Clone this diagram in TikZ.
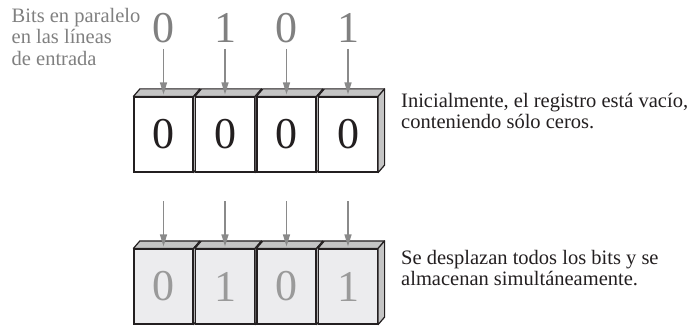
\documentclass[tikz,border=0pt]{standalone}
\usepackage{fontspec}
\setmainfont{Liberation Serif}
\usetikzlibrary{arrows.meta, patterns}
\definecolor{cInk}     {HTML}{231F20}
\definecolor{cMuted}   {HTML}{808080}
\definecolor{cFeed}    {HTML}{8A8A8A}
\definecolor{cFace}    {HTML}{C4C4C4}
\definecolor{cLoad}    {HTML}{ECECEE}
\definecolor{cBitLoad} {HTML}{9A9A9A}
\tikzset{
  cellbox/.style={draw=cInk, line width=1.2pt, minimum width=59pt, minimum height=75pt,
                  inner sep=0pt, font=\fontsize{44}{44}\selectfont},
  bitlbl/.style={text=cMuted, inner sep=0pt, anchor=base, font=\fontsize{44}{44}\selectfont},
  feed/.style={draw=cFeed, line width=1.3pt, -{Triangle[length=12pt, width=7pt]}},
  face/.style={draw=cInk, line width=1.2pt, line join=round, preaction={fill=cFace},
               pattern=north east lines, pattern color=gray!45},
  note/.style={text=cInk, inner sep=0pt, anchor=base west, align=left,
               font=\fontsize{20.5}{21.3}\selectfont},
}

\begin{document}
\begin{tikzpicture}[x=1pt, y=-1pt]
  \useasboundingbox (0,0) rectangle (696,326);
  % input lines label (anchored on its last line)
  \node[note, text=cMuted] (intro) at (11.5,65.3) {Bits en paralelo\\en las líneas\\de entrada};
  % register before and after the load
  \foreach \i/\b in {1/0, 2/1, 3/0, 4/1} {
    \pgfmathsetmacro\cx{163.5+61.5*(\i-1)}
    % empty register (top)
    \node[cellbox, fill=white, text=cInk] (reg\i) at (\cx,134.5) {0};
    \draw[face] (reg\i.north west) -- ++(6.5,-7.5) -- ([shift={(6.5,-7.5)}]reg\i.north east)
      -- (reg\i.north east) -- cycle;
    \draw[face] (reg\i.north east) -- ++(6.5,-7.5) -- ([shift={(6.5,-7.5)}]reg\i.south east)
      -- (reg\i.south east) -- cycle;
    \node[bitlbl] (bit\i) at (\cx,42.7) {\b};
    \draw[feed] ([yshift=-6.3pt]bit\i.base) -- ([yshift=2pt]reg\i.north);
    % loaded register (bottom)
    \node[cellbox, fill=cLoad, text=cBitLoad] (load\i) at (\cx,286.5) {\b};
    \draw[face] (load\i.north west) -- ++(6.5,-7.5) -- ([shift={(6.5,-7.5)}]load\i.north east)
      -- (load\i.north east) -- cycle;
    \draw[face] (load\i.north east) -- ++(6.5,-7.5) -- ([shift={(6.5,-7.5)}]load\i.south east)
      -- (load\i.south east) -- cycle;
    \coordinate (src\i) at (\cx,201);
    \draw[feed] (src\i) -- ([yshift=2pt]load\i.north);
  }
  % notes
  \node[note] (before) at (401,129) {Inicialmente, el registro está vacío,\\conteniendo sólo ceros.};
  \node[note] (after) at (401,285.3) {Se desplazan todos los bits y se\\almacenan simultáneamente.};
\end{tikzpicture}
\end{document}
